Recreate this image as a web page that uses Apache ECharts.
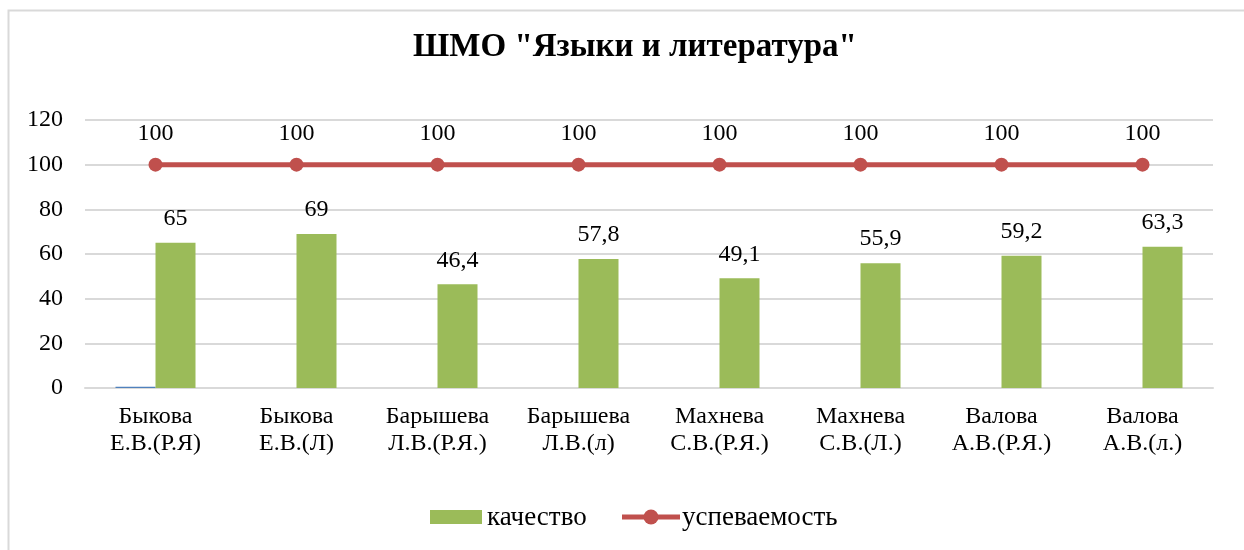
<!DOCTYPE html>
<html>
<head>
<meta charset="utf-8">
<script src="https://cdn.jsdelivr.net/npm/echarts@6/dist/echarts.min.js"></script>
<style>
  html, body { margin: 0; padding: 0; background: #fff; }
  #chart { width: 1244px; height: 550px; }
</style>
</head>
<body>
<div id="chart"></div>
<script>
const categories = [
  'Быкова\nЕ.В.(Р.Я)', 'Быкова\nЕ.В.(Л)', 'Барышева\nЛ.В.(Р.Я.)', 'Барышева\nЛ.В.(л)',
  'Махнева\nС.В.(Р.Я.)', 'Махнева\nС.В.(Л.)', 'Валова\nА.В.(Р.Я.)', 'Валова\nА.В.(л.)'
]
const extraValues = [0.6, 0, 0, 0, 0, 0, 0, 0]
const qualityValues = [65, 69, 46.4, 57.8, 49.1, 55.9, 59.2, 63.3]
const progressValues = [100, 100, 100, 100, 100, 100, 100, 100]

const font = 'Liberation Serif'
const green = '#9bbb59'
const red = '#c0504d'
const fmt = p => String(p.value).replace('.', ',')
const legendFont = '27px "Liberation Serif", serif'

const chart = echarts.init(document.getElementById('chart'))
chart.setOption({
  animation: false,
  textStyle: { fontFamily: font },
  graphic: [
    {
      type: 'rect',
      shape: { x: 8.5, y: 10.5, width: 1300, height: 600 },
      style: { fill: 'none', stroke: '#d9d9d9', lineWidth: 2 }
    },
    // legend drawn by hand so it keeps the serif face
    { type: 'rect', shape: { x: 430, y: 510, width: 52, height: 14 }, style: { fill: green } },
    { type: 'text', x: 487, y: 518, style: { text: 'качество', font: legendFont, fill: '#000', verticalAlign: 'middle' } },
    { type: 'line', shape: { x1: 622, y1: 517, x2: 680, y2: 517 }, style: { stroke: red, lineWidth: 5 } },
    { type: 'circle', shape: { cx: 651, cy: 517, r: 7.5 }, style: { fill: red } },
    { type: 'text', x: 682, y: 518, style: { text: 'успеваемость', font: legendFont, fill: '#000', verticalAlign: 'middle' } }
  ],
  title: {
    text: 'ШМО "Языки и литература"',
    left: 630,
    top: 26,
    textAlign: 'center',
    textStyle: { fontFamily: font, fontSize: 33, fontWeight: 'bold', color: '#000' }
  },
  grid: { left: 85, right: 31, top: 120, bottom: 162 },
  xAxis: {
    type: 'category',
    data: categories,
    axisTick: { show: false },
    axisLine: { lineStyle: { color: '#d9d9d9', width: 2 } },
    axisLabel: { fontFamily: font, fontSize: 24, color: '#000', lineHeight: 27, margin: 15, interval: 0 }
  },
  yAxis: {
    type: 'value',
    min: 0,
    max: 120,
    interval: 20,
    axisLabel: { fontFamily: font, fontSize: 24, color: '#000', margin: 22 },
    splitLine: { lineStyle: { color: '#d9d9d9', width: 2 } }
  },
  series: [
    {
      name: 'ряд',
      type: 'bar',
      data: extraValues,
      barWidth: 40,
      barGap: '0%',
      itemStyle: { color: '#4f81bd' }
    },
    {
      name: 'качество',
      type: 'bar',
      data: qualityValues,
      barWidth: 40,
      itemStyle: { color: green },
      label: {
        show: true,
        position: 'top',
        distance: 12,
        formatter: fmt,
        fontFamily: font,
        fontSize: 24,
        color: '#000'
      }
    },
    {
      name: 'успеваемость',
      type: 'line',
      data: progressValues,
      symbol: 'circle',
      symbolSize: 14,
      itemStyle: { color: red },
      lineStyle: { color: red, width: 5 },
      label: {
        show: true,
        position: 'top',
        distance: 12,
        fontFamily: font,
        fontSize: 24,
        color: '#000'
      }
    }
  ]
})
</script>
</body>
</html>
